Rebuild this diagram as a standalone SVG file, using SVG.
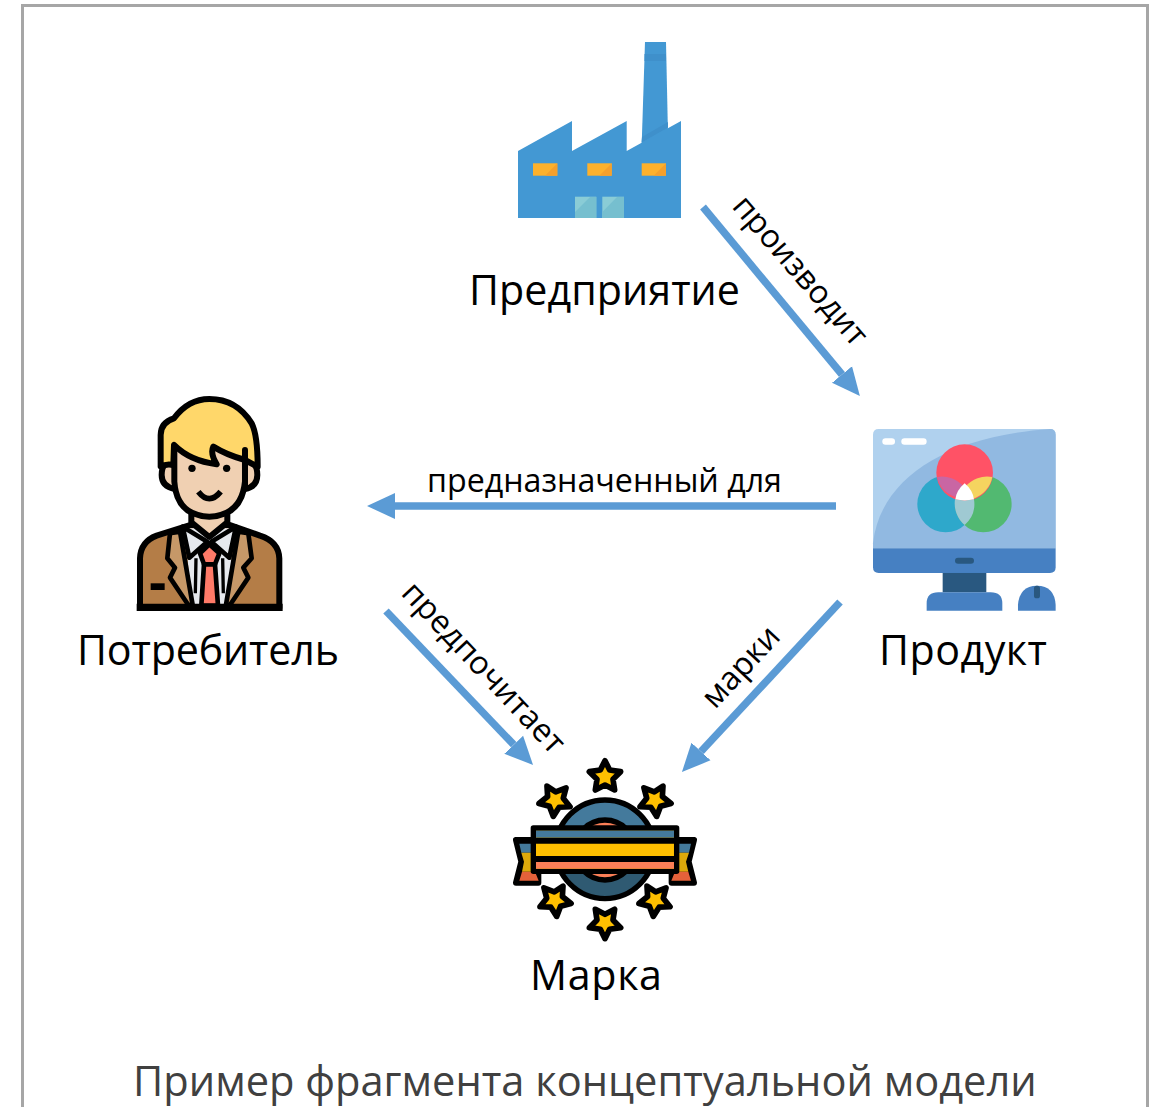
<svg xmlns="http://www.w3.org/2000/svg" width="1150" height="1107" viewBox="0 0 1150 1107">
<style>
text{font-family:"Open Sans","Noto Sans","DejaVu Sans",sans-serif;fill:#000}
.n{font-size:41.200px}
.l{font-size:32.200px}
.c{font-size:41.600px;fill:#404040}
.conn{fill:none;stroke:#5b9bd5;stroke-width:7.5;marker-end:url(#ah)}
.k{stroke:#000;stroke-width:18;stroke-linejoin:round;stroke-linecap:round}
.k2{stroke-width:14}
.star{fill:#ffc000;stroke:#000;stroke-width:17;stroke-linejoin:round}
</style>
<defs>
<marker id="ah" markerUnits="userSpaceOnUse" markerWidth="30" markerHeight="28" refX="0" refY="14" orient="auto">
<path d="M0 1L28 14L0 27z" fill="#5b9bd5"/>
</marker>
<polygon id="st" class="star" points="0,-48 14,-20 47,-15 24,8 29,40 0,25 -29,40 -24,8 -47,-15 -14,-20"/>
</defs>
<rect id="frame" x="22.500" y="5.500" width="1125" height="1200" fill="#fff" stroke="#a6a6a6" stroke-width="3"/>
<g id="connectors">
<path class="conn" d="M703 207L842 374.500"/>
<path class="conn" d="M836 506H395"/>
<path class="conn" d="M386 611L513.700 744.700"/>
<path class="conn" d="M840 602L701 751.500"/>
</g>
<g id="labels">
<text class="l" transform="translate(731 207) rotate(49)">производит</text>
<text class="l" x="427" y="492">предназначенный для</text>
<text class="l" transform="translate(400 594) rotate(46.800)">предпочитает</text>
<text class="l" transform="translate(715 710) rotate(-47)">марки</text>
</g>
<g id="factory">
<path d="M645 42H666L668 135L641.500 150z" fill="#4398d3"/>
<path d="M644.500 54H666V61H644.500zM641.500 142.500L668 127.500V122L642 137z" fill="#3f90cb"/>
<path d="M518 151L572 121V151L626.700 121V151L681 121V218H518z" fill="#4398d3"/>
<g fill="#fdb12c"><rect x="533" y="163.300" width="24.300" height="12.400"/><rect x="587.300" y="163.300" width="24.400" height="12.400"/><rect x="641.700" y="163.300" width="24.300" height="12.400"/></g>
<g fill="#f5a02c"><path d="M545 175.700L557.300 163.300V175.700z"/><path d="M599.300 175.700L611.700 163.300V175.700z"/><path d="M653.700 175.700L666 163.300V175.700z"/></g>
<g fill="#8accd6"><rect x="575" y="196.700" width="21.300" height="21.300"/><rect x="602.300" y="196.700" width="21.700" height="21.300"/></g>
<g fill="#76bfcf"><path d="M575 218V212L590 197H596.300V218z"/><path d="M602.300 218V212L617 197H624V218z"/></g>
<text class="n" x="469" y="305" textLength="271" lengthAdjust="spacing">Предприятие</text>
</g>
<g id="consumer">
<g transform="translate(120 385) scale(.3333)">
<path class="k" fill="#b47d47" d="M60 668V520Q62 470 110 452L210 420H330L420 452Q476 470 478 520V668z"/>
<path fill="#e6e9ee" d="M195 430H340L325 660H215z"/>
<path class="k k2" fill="#c69868" d="M150 445L142 520L165 548L150 578L205 660H218L180 440z"/>
<path class="k k2" fill="#c69868" d="M385 445L395 520L370 548L385 578L330 660H318L355 440z"/>
<path d="M228 520L226 625M308 520L310 625" stroke="#000" stroke-width="10" fill="none"/>
<path class="k k2" fill="#e6e9ee" d="M188 425L262 470L208 518zM348 425L274 470L328 518z"/>
<path class="k" fill="#f0d0b2" d="M214 375H322V412L268 456L214 412z"/>
<path class="k" fill="#f0d0b2" d="M165 232Q125 225 125 270Q125 305 165 312zM375 232Q412 225 412 270Q412 305 375 312z"/>
<path class="k" fill="#f0d0b2" d="M163 170V290Q170 392 268 395Q365 392 375 290V170z"/>
<path class="k" fill="#ffd76a" d="M122 245V150Q122 112 162 100Q205 42 268 42Q350 42 395 115Q413 150 413 245L375 225V195V225Q320 210 280 185Q270 205 290 238Q210 228 162 180L160 240Q140 235 122 245z"/>
<circle cx="216" cy="250" r="11" fill="#000"/><circle cx="320" cy="250" r="11" fill="#000"/>
<path d="M235 320Q268 362 302 320" fill="none" stroke="#000" stroke-width="17"/>
<path class="k k2" fill="#ff7a68" d="M268 478L298 505L285 538H252L240 505z"/>
<path class="k k2" fill="#ff7a68" d="M252 538H285L294 662H244z"/>
<path d="M92 595H134V615H92z" fill="#000"/>
<path d="M50 656H488V678H50z" fill="#000"/>
</g>
<text class="n" x="77" y="665" textLength="262" lengthAdjust="spacing">Потребитель</text>
</g>
<g id="product">
<g transform="translate(860 420) scale(.3333)">
<path fill="#b0d1ee" d="M39 44Q39 27 56 27H570Q587 27 587 44V385H39z"/>
<path fill="#91b9e1" d="M39 385V370C60 180 250 50 570 27Q587 27 587 44V385z"/>
<path fill="#4680c2" d="M39 385H587V442Q587 459 570 459H56Q39 459 39 442z"/>
<rect x="285" y="413" width="57" height="18" rx="9" fill="#295880"/>
<rect x="248" y="459" width="131" height="58" fill="#295880"/>
<path fill="#4680c2" d="M200 572V550Q200 517 235 517H392Q427 517 427 550V572z"/>
<path fill="#4680c2" d="M474 572V555Q478 498 531 497Q584 498 587 555V572z"/>
<rect x="522" y="497" width="18" height="38" rx="8" fill="#295880"/>
<circle cx="257" cy="252" r="85" fill="#2ea8cb"/>
<circle cx="370" cy="252" r="85" fill="#52b971"/>
<circle cx="314" cy="158" r="85" fill="#ff5266"/>
<path fill="#c966a3" d="M231 171A85 85 0 0 1 311 200A85 85 0 0 0 287 231A85 85 0 0 1 231 171z"/>
<path fill="#f5d45f" d="M397 171A85 85 0 0 0 316 200A85 85 0 0 1 341 236A85 85 0 0 0 397 171z"/>
<path fill="#9fc9d2" d="M314 315A85 85 0 0 1 285 238Q314 245 342 238A85 85 0 0 1 314 315z"/>
<path fill="#fff" d="M314 190Q338 210 342 238Q314 245 286 238Q290 210 314 190z"/>
<rect x="67" y="55" width="38" height="19" rx="9.500" fill="#fff"/>
<rect x="124" y="55" width="76" height="19" rx="9.500" fill="#fff"/>
</g>
<text class="n" x="879" y="665" textLength="168" lengthAdjust="spacing">Продукт</text>
</g>
<g id="brand">
<g transform="translate(500 750) scale(.3333)">
<use href="#st" x="315" y="80"/><use href="#st" x="165" y="150" transform="rotate(-30 165 150)"/><use href="#st" x="465" y="150" transform="rotate(30 465 150)"/>
<use href="#st" x="165" y="450" transform="rotate(30 165 450)"/><use href="#st" x="465" y="450" transform="rotate(-30 465 450)"/><use href="#st" x="315" y="518" transform="rotate(180 315 518)"/>
<circle cx="315" cy="298" r="148" fill="#447a9c"/>
<path d="M165 298A150 150 0 0 0 465 298z" fill="#2f5a72"/>
<circle cx="315" cy="298" r="148" fill="none" stroke="#000" stroke-width="16"/>
<circle cx="315" cy="300" r="90" fill="#fb7f57" stroke="#000" stroke-width="16"/>
<path class="k" fill="#000" d="M48 270H115V398H48L64 335z"/>
<path class="k" fill="#000" d="M582 270H515V398H582L566 335z"/>
<path d="M58 281H105V308H64z M573 281H525V308H567z" fill="#447a9c"/>
<path d="M64 308H105V365H66L72 335zM567 308H525V365H565L558 335z" fill="#dda90b"/>
<path d="M66 365H105L116 392H58zM565 365H525L514 392H573z" fill="#e5613a"/>
<rect x="100" y="234" width="430" height="130" fill="#ffc000" stroke="#000" stroke-width="16" stroke-linejoin="round"/>
<rect x="108" y="242" width="414" height="21" fill="#447a9c"/>
<rect x="108" y="336" width="414" height="20" fill="#fb7f57"/>
<path d="M100 272H530M100 327H530" stroke="#000" stroke-width="18" fill="none"/>
</g>
<text class="n" x="530" y="990" textLength="132" lengthAdjust="spacing">Марка</text>
</g>
<text id="caption" class="c" x="133" y="1096">Пример фрагмента концептуальной модели</text>
</svg>
